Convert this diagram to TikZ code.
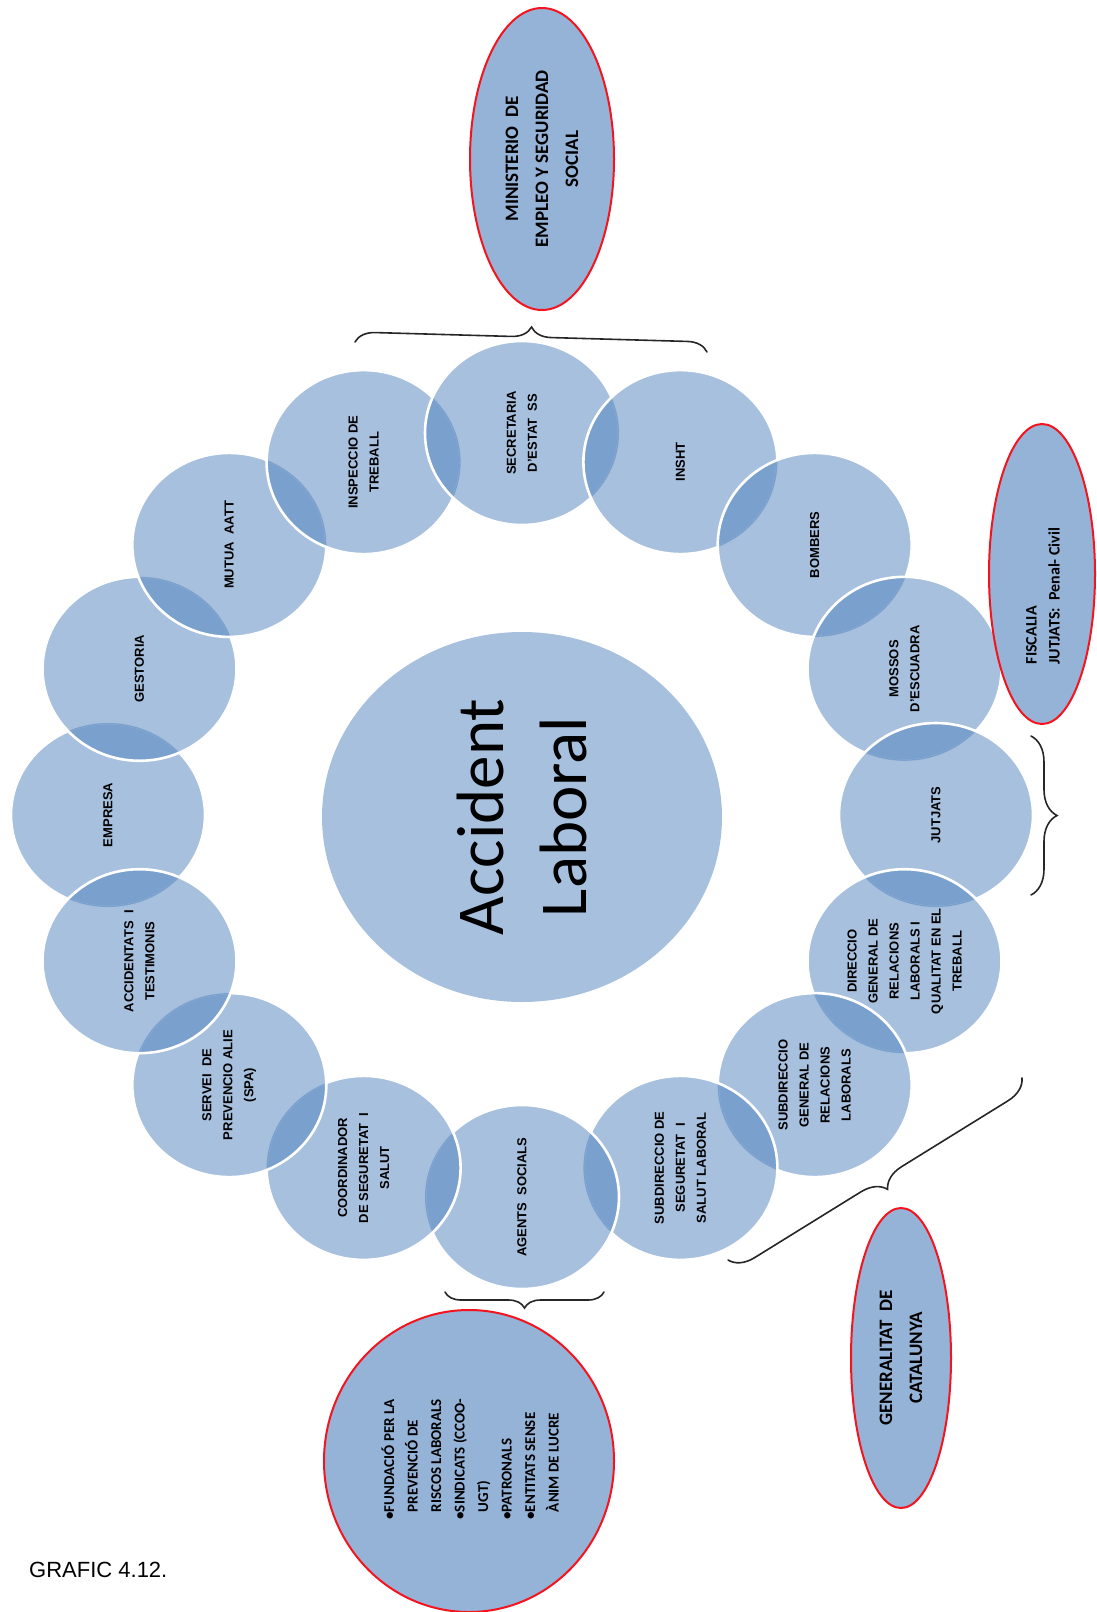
\documentclass[tikz,border=0pt]{standalone}
\usepackage{fontspec}
\setmainfont{Liberation Sans}
\newfontfamily\calib{Carlito}
\usetikzlibrary{shapes.geometric,decorations.pathreplacing}
\definecolor{ringblue}{RGB}{79,129,189}
\definecolor{ringsingle}{RGB}{167,192,222}
\definecolor{ovalblue}{RGB}{149,179,215}
\definecolor{ovalred}{RGB}{245,20,30}
\begin{document}
\begin{tikzpicture}[x=1pt,y=-1pt,
  sat/.style={ellipse, minimum width=194pt, minimum height=184pt, inner sep=0pt,
    fill=ringblue, fill opacity=0.5, draw=white, line width=2.6pt},
  lensfix/.style={draw=ringsingle, line width=2.6pt},
  sattext/.style={rotate=90, align=center, inner sep=0pt, text=black,
    font=\fontsize{13}{21}\selectfont\bfseries},
  hub/.style={ellipse, minimum width=400pt, minimum height=370pt, inner sep=0pt,
    fill=ringblue, fill opacity=0.5},
  hubtext/.style={rotate=90, align=center, inner sep=0pt, text=black,
    font=\calib\fontsize{67}{83}\selectfont},
  agency/.style={ellipse, inner sep=0pt, fill=ovalblue, draw=ovalred, line width=2pt},
  agencytext/.style={rotate=90, inner sep=0pt, text=black,
    font=\calib\bfseries\fontsize{19}{30}\selectfont},
  curlybrace/.style={decorate, draw=black!85, line width=1.6pt, line cap=round},
]
\useasboundingbox (0,0) rectangle (1096,1612);

% ring positions (clockwise from the left)
\coordinate (p1) at (108,815);
\coordinate (p2) at (139.5,668.8);
\coordinate (p3) at (229.3,544.9);
\coordinate (p4) at (363.6,462.1);
\coordinate (p5) at (522,433);
\coordinate (p6) at (680.4,462.1);
\coordinate (p7) at (814.7,544.9);
\coordinate (p8) at (904.5,668.8);
\coordinate (p9) at (936,815);
\coordinate (p10) at (904.5,961.2);
\coordinate (p11) at (814.7,1085.1);
\coordinate (p12) at (680.4,1167.9);
\coordinate (p13) at (522,1197);
\coordinate (p14) at (363.6,1167.9);
\coordinate (p15) at (229.3,1085.1);
\coordinate (p16) at (139.5,961.2);

% ring discs in drawing order
\node[sat] (c1) at (p1) {};
\foreach \i in {2,...,15}{
  \pgfmathtruncatemacro{\j}{\i-1}
  \begin{scope}
    \clip (p\i) ellipse [x radius=97pt, y radius=92pt];
    \clip (p\j) ellipse [x radius=97pt, y radius=92pt];
    \draw[lensfix] (p\j) ellipse [x radius=97pt, y radius=92pt];
  \end{scope}
  \node[sat] (c\i) at (p\i) {};
}
\begin{scope}
  \clip (p16) ellipse [x radius=97pt, y radius=92pt];
  \clip (p15) ellipse [x radius=97pt, y radius=92pt];
  \draw[lensfix] (p15) ellipse [x radius=97pt, y radius=92pt];
\end{scope}
\begin{scope}
  \clip (p16) ellipse [x radius=97pt, y radius=92pt];
  \clip (p1) ellipse [x radius=97pt, y radius=92pt];
  \draw[lensfix] (p1) ellipse [x radius=97pt, y radius=92pt];
\end{scope}
\node[sat] (c16) at (p16) {};

% central disc
\node[hub] (hub) at (522,817) {};
\node[hubtext] (hubt) at (hub) {Accident\\Laboral};

% ring labels
\node[sattext] (t1) at (c1) {EMPRESA};
\node[sattext] (t2) at (c2) {GESTORIA};
\node[sattext] (t3) at (c3) {MUTUA~~AATT};
\node[sattext] (t4) at (c4) {INSPECCIO DE\\TREBALL};
\node[sattext] (t5) at (c5) {SECRETARIA\\D'ESTAT~~SS};
\node[sattext] (t6) at (c6) {INSHT};
\node[sattext] (t7) at (c7) {BOMBERS};
\node[sattext] (t8) at (c8) {MOSSOS\\D'ESCUADRA};
\node[sattext] (t9) at (c9) {JUTJATS};
\node[sattext] (t10) at (c10) {DIRECCIO\\GENERAL DE\\RELACIONS\\LABORALS I\\QUALITAT EN EL\\TREBALL};
\node[sattext] (t11) at (c11) {SUBDIRECCIO\\GENERAL DE\\RELACIONS\\LABORALS};
\node[sattext] (t12) at (c12) {SUBDIRECCIO DE\\SEGURETAT~~I\\SALUT LABORAL};
\node[sattext] (t13) at (c13) {AGENTS~~SOCIALS};
\node[sattext] (t14) at (c14) {COORDINADOR\\DE SEGURETAT~~I\\SALUT};
\node[sattext] (t15) at (c15) {SERVEI~~DE\\PREVENCIO ALIE\\(SPA)};
\node[sattext] (t16) at (c16) {ACCIDENTATS~~I\\TESTIMONIS};

% red-outlined agencies
\node[agency, minimum width=144pt, minimum height=302pt] (min) at (542,159) {};
\node[agencytext, align=center] (tmin) at (min) {MINISTERIO~~DE\\EMPLEO Y SEGURIDAD\\SOCIAL};

\node[agency, minimum width=106pt, minimum height=300pt] (fis) at (1042,574) {};
\node[agencytext, align=left, font=\calib\bfseries\fontsize{16}{23}\selectfont] (tfis) at (1043,596) {FISCALIA\\JUTJATS:~~Penal- Civil};

\node[agency, minimum width=100pt, minimum height=300pt] (gen) at (901,1358) {};
\node[agencytext, align=center] (tgen) at (gen) {GENERALITAT~~DE\\CATALUNYA};

\node[agency, minimum width=290pt, minimum height=302pt] (soc) at (469,1461) {};
\node[agencytext, align=left, font=\calib\bfseries\fontsize{15}{23.5}\selectfont] (tsoc) at (470,1459)
  {\textbullet FUNDACIÓ PER LA\\\hphantom{\textbullet}PREVENCIÓ DE\\\hphantom{\textbullet}RISCOS LABORALS\\\textbullet SINDICATS (CCOO-\\\hphantom{\textbullet}UGT)\\\textbullet PATRONALS\\\textbullet ENTITATS SENSE\\\hphantom{\textbullet}ÀNIM DE LUCRE};

% braces
\coordinate (bt1) at (355,342);
\coordinate (bt2) at (707,352);
\draw[curlybrace, decoration={brace, amplitude=20pt}] (bt1) -- (bt2);
\coordinate (br1) at (1031,736);
\coordinate (br2) at (1031,895);
\draw[curlybrace, decoration={brace, amplitude=26pt}] (br1) -- (br2);
\coordinate (bd1) at (1022,1078);
\coordinate (bd2) at (728,1260);
\draw[curlybrace, decoration={brace, amplitude=24pt}] (bd1) -- (bd2);
\coordinate (bb1) at (604,1292);
\coordinate (bb2) at (445,1292);
\draw[curlybrace, decoration={brace, amplitude=16pt}] (bb1) -- (bb2);

% caption
\node[anchor=base west, inner sep=0pt, font=\fontsize{22}{26}\selectfont] (cap) at (29,1577) {GRAFIC 4.12.};
\end{tikzpicture}
\end{document}
